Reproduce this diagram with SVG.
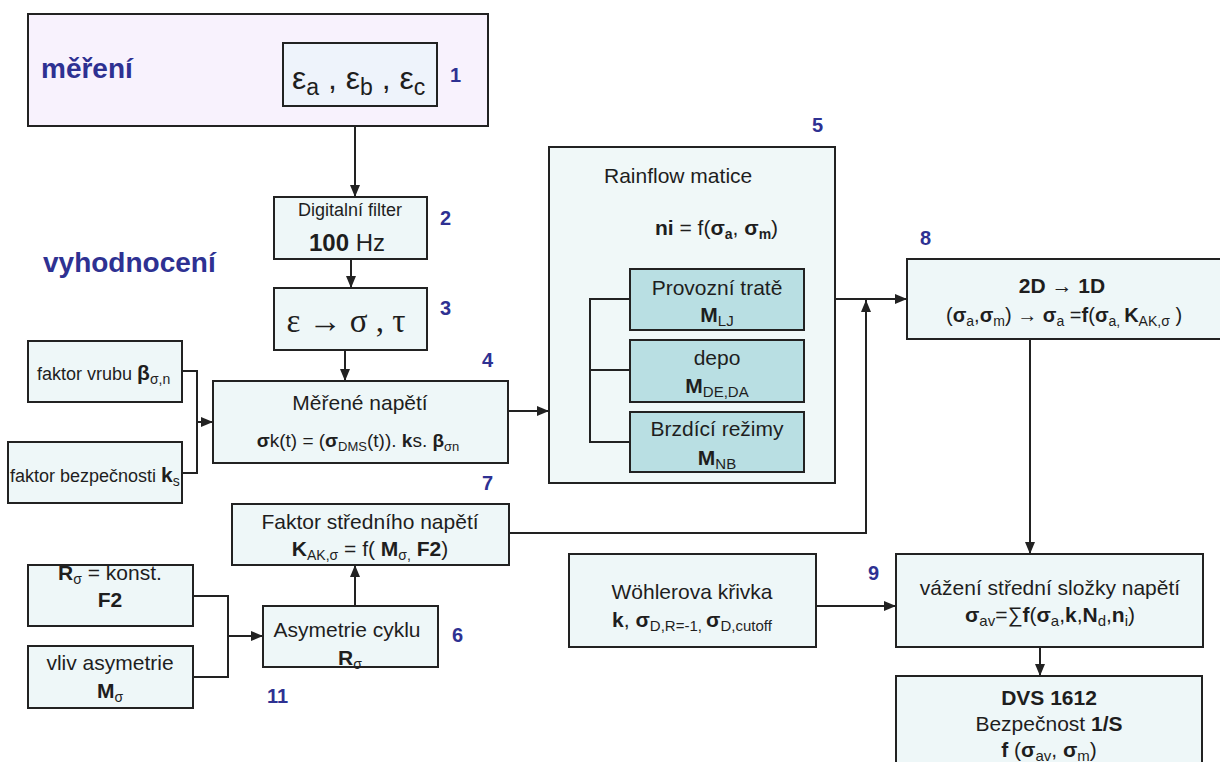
<svg xmlns="http://www.w3.org/2000/svg" width="1220" height="762" viewBox="0 0 1220 762">
<defs>
<style>
.box{fill:#eef7f8;stroke:#222;stroke-width:2}
.ibox{fill:#b9dfe3;stroke:#222;stroke-width:2}
text{font-family:"Liberation Sans",Arial,sans-serif;fill:#1e1e1e}
.t{font-size:21px}
.f{font-size:18px}
.m{text-anchor:middle}
.b{font-weight:bold}
.s{font-size:14px}
.lbl{font-size:20px;font-weight:bold;fill:#2e3192}
.head{font-size:28px;font-weight:bold;fill:#2e3192}
.c{fill:none;stroke:#222;stroke-width:2}
</style>
<marker id="ah" markerWidth="12" markerHeight="12" refX="12" refY="6" orient="auto" markerUnits="userSpaceOnUse"><path d="M0,1 L12,6 L0,11 Z" fill="#222"/></marker>
</defs>
<rect width="1220" height="762" fill="#ffffff"/>

<g id="connectors">
<path class="c" d="M355,126 V197" marker-end="url(#ah)"/>
<path class="c" d="M351,259 V288" marker-end="url(#ah)"/>
<path class="c" d="M345,350 V381" marker-end="url(#ah)"/>
<path class="c" d="M182,371 H197 V473 H182"/>
<path class="c" d="M197,422 H213" marker-end="url(#ah)"/>
<path class="c" d="M508,411 H549" marker-end="url(#ah)"/>
<path class="c" d="M835,299 H907" marker-end="url(#ah)"/>
<path class="c" d="M509,533 H866 V300" marker-end="url(#ah)"/>
<path class="c" d="M1030,339 V554" marker-end="url(#ah)"/>
<path class="c" d="M816,606 H896" marker-end="url(#ah)"/>
<path class="c" d="M1040,647 V676" marker-end="url(#ah)"/>
<path class="c" d="M355,606 V565" marker-end="url(#ah)"/>
<path class="c" d="M193,596 H228 V677 H193"/>
<path class="c" d="M228,636 H263" marker-end="url(#ah)"/>
</g>

<g id="mereni">
<rect x="28" y="14" width="460" height="112" fill="#f8f2fd" stroke="#222" stroke-width="2"/>
<text class="head" x="41" y="78">měření</text>
</g>
<g id="n1">
<rect x="283" y="43" width="154" height="63" fill="#eef3fb" stroke="#222" stroke-width="2"/>
<text x="292" y="89" style="font-size:32px">ε<tspan dy="6" style="font-size:23px">a</tspan><tspan dy="-6"> , ε</tspan><tspan dy="6" style="font-size:23px">b</tspan><tspan dy="-6"> , ε</tspan><tspan dy="6" style="font-size:23px">c</tspan></text>
<text class="lbl" x="450" y="82">1</text>
</g>

<text class="head" x="43" y="272">vyhodnocení</text>

<g id="n2">
<rect class="box" x="274" y="197" width="153" height="62"/>
<text class="f m" x="350" y="216">Digitalní filter</text>
<text class="m" x="347" y="251" style="font-size:24px"><tspan class="b">100</tspan> Hz</text>
<text class="lbl" x="440" y="225">2</text>
</g>

<g id="n3">
<rect class="box" x="274" y="288" width="153" height="62"/>
<text class="m" x="346" y="332" style="font-family:'Liberation Serif',serif;font-size:33px">ε → σ , τ</text>
<text class="lbl" x="440" y="315">3</text>
</g>

<g id="n4">
<rect class="box" x="213" y="381" width="295" height="82"/>
<text class="t m" x="360" y="410">Měřené napětí</text>
<text class="m" x="358" y="447" style="font-size:19px"><tspan class="b">σ</tspan>k(t) = (<tspan class="b">σ</tspan><tspan dy="4" style="font-size:13px">DMS</tspan><tspan dy="-4">(t)). </tspan><tspan class="b">k</tspan>s. <tspan class="b">β</tspan><tspan dy="4" style="font-size:13px">σn</tspan></text>
<text class="lbl" x="482" y="367">4</text>
</g>

<g id="vrub">
<rect class="box" x="28" y="341" width="154" height="61"/>
<text class="f" x="37" y="380">faktor vrubu <tspan class="b" style="font-size:21px">β</tspan><tspan dy="4" style="font-size:14px">σ,n</tspan></text>
</g>
<g id="bezpecnost">
<rect class="box" x="8" y="442" width="174" height="61"/>
<text class="f" x="10" y="482">faktor bezpečnosti <tspan class="b" style="font-size:21px">k</tspan><tspan dy="4" style="font-size:14px">s</tspan></text>
</g>

<g id="n5">
<rect x="549" y="147" width="286" height="336" fill="#f0f8f8" stroke="#222" stroke-width="2"/>
<text class="t" x="604" y="183">Rainflow matice</text>
<text x="655" y="235" style="font-size:21px"><tspan class="b">ni</tspan> = f(<tspan class="b">σ</tspan><tspan class="b" dy="4" style="font-size:14px">a</tspan><tspan dy="-4">, </tspan><tspan class="b">σ</tspan><tspan class="b" dy="4" style="font-size:14px">m</tspan><tspan dy="-4">)</tspan></text>
<text class="lbl" x="812" y="132">5</text>
<path class="c" d="M630,299 H590 V442 H630 M590,370 H630"/>
</g>
<g id="n5a">
<rect class="ibox" x="630" y="269" width="174" height="61"/>
<text class="t m" x="717" y="295">Provozní tratě</text>
<text class="m" x="717" y="322" style="font-size:21px"><tspan class="b">M</tspan><tspan dy="4" style="font-size:15px">LJ</tspan></text>
</g>
<g id="n5b">
<rect class="ibox" x="630" y="340" width="174" height="62"/>
<text class="t m" x="717" y="365">depo</text>
<text class="m" x="717" y="393" style="font-size:21px"><tspan class="b">M</tspan><tspan dy="4" style="font-size:15px">DE,DA</tspan></text>
</g>
<g id="n5c">
<rect class="ibox" x="630" y="412" width="174" height="60"/>
<text class="t m" x="717" y="436">Brzdící režimy</text>
<text class="m" x="717" y="465" style="font-size:21px"><tspan class="b">M</tspan><tspan dy="4" style="font-size:15px">NB</tspan></text>
</g>

<g id="n8">
<rect class="box" x="907" y="259" width="320" height="80"/>
<text class="m b" x="1062" y="293" style="font-size:21px">2D → 1D</text>
<text class="m" x="1064" y="322" style="font-size:20px">(<tspan class="b">σ</tspan><tspan dy="4" style="font-size:14px">a</tspan><tspan dy="-4">,</tspan><tspan class="b">σ</tspan><tspan dy="4" style="font-size:14px">m</tspan><tspan dy="-4">) → </tspan><tspan class="b">σ</tspan><tspan dy="4" style="font-size:14px">a</tspan><tspan dy="-4"> =</tspan><tspan class="b">f</tspan>(<tspan class="b">σ</tspan><tspan dy="4" style="font-size:14px">a, </tspan><tspan class="b" dy="-4">K</tspan><tspan dy="4" style="font-size:14px">AK,σ</tspan><tspan dy="-4"> )</tspan></text>
<text class="lbl" x="920" y="245">8</text>
</g>

<g id="n7">
<rect class="box" x="232" y="504" width="277" height="61"/>
<text class="t m" x="370" y="529">Faktor středního napětí</text>
<text class="m" x="370" y="556" style="font-size:21px"><tspan class="b">K</tspan><tspan dy="4" style="font-size:14px">AK,σ</tspan><tspan dy="-4"> = f( </tspan><tspan class="b">M</tspan><tspan dy="4" style="font-size:14px">σ,</tspan><tspan class="b" dy="-4"> F2</tspan>)</text>
<text class="lbl" x="482" y="490">7</text>
</g>

<g id="n6">
<rect class="box" x="263" y="606" width="175" height="61"/>
<text class="t m" x="347" y="637">Asymetrie cyklu</text>
<text class="m" x="350" y="665" style="font-size:21px"><tspan class="b">R</tspan><tspan dy="4" style="font-size:14px">σ</tspan></text>
<text class="lbl" x="452" y="642">6</text>
</g>

<g id="rkonst">
<rect class="box" x="28" y="565" width="165" height="61"/>
<text class="m" x="110" y="580" style="font-size:21px"><tspan class="b">R</tspan><tspan dy="4" style="font-size:14px">σ</tspan><tspan dy="-4"> = konst.</tspan></text>
<text class="m b" x="110" y="607" style="font-size:21px">F2</text>
</g>
<g id="vliv">
<rect class="box" x="28" y="646" width="165" height="62"/>
<text class="t m" x="110" y="670">vliv asymetrie</text>
<text class="m" x="110" y="698" style="font-size:21px"><tspan class="b">M</tspan><tspan dy="4" style="font-size:14px">σ</tspan></text>
</g>
<text class="lbl" x="267" y="703">11</text>

<g id="wohler">
<rect class="box" x="569" y="554" width="247" height="93"/>
<text class="t m" x="692" y="599">Wöhlerova křivka</text>
<text class="m" x="692" y="627" style="font-size:21px"><tspan class="b">k</tspan>, <tspan class="b">σ</tspan><tspan dy="4" style="font-size:15px">D,R=-1, </tspan><tspan class="b" dy="-4">σ</tspan><tspan dy="4" style="font-size:15px">D,cutoff</tspan></text>
</g>

<g id="n9">
<rect class="box" x="896" y="554" width="307" height="93"/>
<text class="t m" x="1050" y="595">vážení střední složky napětí</text>
<text class="m" x="1050" y="622" style="font-size:21px"><tspan class="b">σ</tspan><tspan dy="4" style="font-size:15px">av</tspan><tspan dy="-4">=∑</tspan><tspan class="b">f</tspan>(<tspan class="b">σ</tspan><tspan dy="4" style="font-size:15px">a</tspan><tspan dy="-4">,</tspan><tspan class="b">k</tspan>,<tspan class="b">N</tspan><tspan dy="4" style="font-size:15px">d</tspan><tspan dy="-4">,</tspan><tspan class="b">n</tspan><tspan dy="4" style="font-size:15px">i</tspan><tspan dy="-4">)</tspan></text>
<text class="lbl" x="868" y="580">9</text>
</g>

<g id="dvs">
<rect class="box" x="896" y="676" width="306" height="100"/>
<text class="m b" x="1049" y="705" style="font-size:21px">DVS 1612</text>
<text class="t m" x="1049" y="731">Bezpečnost <tspan class="b">1/S</tspan></text>
<text class="m" x="1049" y="757" style="font-size:21px"><tspan class="b">f</tspan> (<tspan class="b">σ</tspan><tspan dy="4" style="font-size:15px">av</tspan><tspan dy="-4">, </tspan><tspan class="b">σ</tspan><tspan dy="4" style="font-size:15px">m</tspan><tspan dy="-4">)</tspan></text>
</g>
</svg>
